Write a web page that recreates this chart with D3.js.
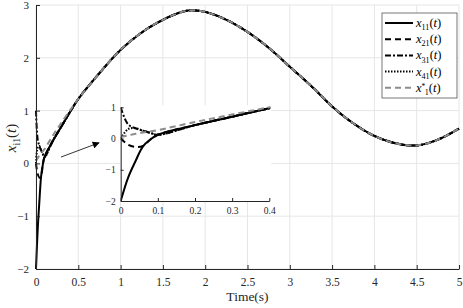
<!DOCTYPE html>
<html>
<head>
<meta charset="utf-8">
<style>
  body { margin: 0; background: #fff; }
  svg { display: block; }
  svg text { font-family: "Liberation Serif", "Times New Roman", "DejaVu Serif", serif; }
  .grid line { stroke: #e6e6e6; stroke-width: 1; }
  .axis path, .axis line { stroke: #262626; }
  .axis text { fill: #262626; }
</style>
<script src="https://d3js.org/d3.v7.min.js"></script>
</head>
<body>
<script>
// time samples (s)
var time = [0, 0.02, 0.04, 0.06, 0.08, 0.1, 0.2, 0.3, 0.4, 0.5, 0.75, 1, 1.25, 1.5, 1.75, 1.85, 2,
            2.25, 2.5, 2.75, 3, 3.25, 3.5, 3.75, 4, 4.25, 4.5, 4.75, 5];

// reference x1*(t)
var xRef = [0.05, 0.1, 0.15, 0.19, 0.23, 0.27, 0.53, 0.77, 1.0, 1.22, 1.71, 2.15, 2.48, 2.72, 2.88, 2.9, 2.87,
            2.72, 2.49, 2.19, 1.83, 1.47, 1.08, 0.76, 0.52, 0.38, 0.34, 0.45, 0.66];
// agents
var x11 = [-2, -1.25, -0.72, -0.25, -0.03, 0.12, 0.43, 0.7, 0.97, 1.22, 1.71, 2.15, 2.48, 2.72, 2.88, 2.9, 2.87,
           2.72, 2.49, 2.19, 1.83, 1.47, 1.08, 0.76, 0.52, 0.38, 0.34, 0.45, 0.66];
var x21 = [0, -0.2, -0.27, -0.24, -0.03, 0.12, 0.43, 0.7, 0.97, 1.22, 1.71, 2.15, 2.48, 2.72, 2.88, 2.9, 2.87,
           2.72, 2.49, 2.19, 1.83, 1.47, 1.08, 0.76, 0.52, 0.38, 0.34, 0.45, 0.66];
var x31 = [1, 0.45, 0.33, 0.25, 0.18, 0.12, 0.43, 0.7, 0.97, 1.22, 1.71, 2.15, 2.48, 2.72, 2.88, 2.9, 2.87,
           2.72, 2.49, 2.19, 1.83, 1.47, 1.08, 0.76, 0.52, 0.38, 0.34, 0.45, 0.66];
var x41 = [0, 0.3, 0.33, 0.25, 0.18, 0.12, 0.43, 0.7, 0.97, 1.22, 1.71, 2.15, 2.48, 2.72, 2.88, 2.9, 2.87,
           2.72, 2.49, 2.19, 1.83, 1.47, 1.08, 0.76, 0.52, 0.38, 0.34, 0.45, 0.66];

var xTicks = [0, 0.5, 1, 1.5, 2, 2.5, 3, 3.5, 4, 4.5, 5];
var yTicks = [-2, -1, 0, 1, 2, 3];
var insetXTicks = [0, 0.1, 0.2, 0.3, 0.4];
var insetYTicks = [-2, -1, 0, 1];
// arrow from / to, in main data coords
var arrowFrom = [0.295, 0.12], arrowTo = [0.745, 0.39];

var series = [
  {sub: "11", star: false, values: x11, color: "#000", dash: null},
  {sub: "21", star: false, values: x21, color: "#000", dash: "6,4"},
  {sub: "31", star: false, values: x31, color: "#000", dash: "6,2,2,2"},
  {sub: "41", star: false, values: x41, color: "#000", dash: "1.5,1.5"},
  {sub: "1", star: true, values: xRef, color: "#8c8c8c", dash: "6,4"}
];

var W = 463, H = 308;
var margin = {top: 5, right: 4, bottom: 39, left: 36};
var width = W - margin.left - margin.right;
var height = H - margin.top - margin.bottom;

var svg = d3.select("body").append("svg").attr("width", W).attr("height", H);
var defs = svg.append("defs");
defs.append("marker").attr("id", "arr").attr("viewBox", "0 0 10 10")
  .attr("refX", 9).attr("refY", 5).attr("markerWidth", 8).attr("markerHeight", 7)
  .attr("markerUnits", "userSpaceOnUse").attr("orient", "auto")
  .append("path").attr("d", "M0,0L10,5L0,10z").attr("fill", "#000");

var chart = svg.append("g").attr("transform", "translate(" + margin.left + "," + margin.top + ")");

var x = d3.scaleLinear().domain([0, 5]).range([0, width]);
var y = d3.scaleLinear().domain([-2, 3]).range([height, 0]);

// grid
chart.append("g").attr("class", "grid").selectAll("line.v").data(xTicks).enter().append("line")
  .attr("x1", x).attr("x2", x).attr("y1", 0).attr("y2", height);
chart.append("g").attr("class", "grid").selectAll("line.h").data(yTicks).enter().append("line")
  .attr("y1", y).attr("y2", y).attr("x1", 0).attr("x2", width);

function drawLines(g, xs, ys) {
  var line = d3.line().x(function(d) { return xs(d[0]); }).y(function(d) { return ys(d[1]); })
    .curve(d3.curveCatmullRom.alpha(0.5));
  series.forEach(function(s) {
    g.append("path")
      .datum(time.map(function(t, i) { return [t, s.values[i]]; }))
      .attr("d", line)
      .attr("fill", "none")
      .attr("stroke", s.color)
      .attr("stroke-width", 2)
      .attr("stroke-dasharray", s.dash);
  });
}
drawLines(chart.append("g"), x, y);

// axes
var serif = "Liberation Serif, Times New Roman, serif";
var xAxis = chart.append("g").attr("class", "axis").attr("transform", "translate(0," + height + ")")
  .call(d3.axisBottom(x).tickValues(xTicks).tickSizeInner(-4).tickSizeOuter(0).tickPadding(9)
    .tickFormat(d3.format("")));
xAxis.attr("font-family", serif).selectAll("text").attr("font-size", "11.5px");
var yAxis = chart.append("g").attr("class", "axis")
  .call(d3.axisLeft(y).tickValues(yTicks).tickSizeInner(-4).tickSizeOuter(0).tickPadding(7)
    .tickFormat(d3.format("")));
yAxis.attr("font-family", serif).selectAll("text").attr("font-size", "11px");

svg.append("text").attr("x", margin.left + width / 2).attr("y", 301)
  .attr("text-anchor", "middle").attr("font-size", "13.5px").attr("fill", "#262626").text("Time(s)");

function mathLabel(sel, sub, star, size) {
  sel.append("tspan").attr("font-style", "italic").text("x");
  if (star) {
    sel.append("tspan").attr("font-size", size * 0.6).attr("dy", -size * 0.25).text("*");
    sel.append("tspan").attr("font-size", size * 0.65).attr("dx", -size * 0.05).attr("dy", size * 0.5).text(sub);
    sel.append("tspan").attr("dy", -size * 0.25).text("(");
  } else {
    sel.append("tspan").attr("font-size", size * 0.65).attr("dy", size * 0.25).text(sub);
    sel.append("tspan").attr("dy", -size * 0.25).text("(");
  }
  sel.append("tspan").attr("font-style", "italic").text("t");
  sel.append("tspan").text(")");
}

var yl = svg.append("text").attr("transform", "translate(16,138) rotate(-90)")
  .attr("text-anchor", "middle").attr("font-size", 15).attr("fill", "#262626");
mathLabel(yl, "i1", false, 15);

// arrow
chart.append("line")
  .attr("x1", x(arrowFrom[0])).attr("y1", y(arrowFrom[1]))
  .attr("x2", x(arrowTo[0])).attr("y2", y(arrowTo[1]))
  .attr("stroke", "#000").attr("stroke-width", 0.8).attr("marker-end", "url(#arr)");

// inset
var inset = {left: 120.7, top: 107.3, width: 148.6, height: 93.7};
var ix = d3.scaleLinear().domain([0, 0.4]).range([0, inset.width]);
var iy = d3.scaleLinear().domain([-2, 1]).range([inset.height, 0]);
var ig = svg.append("g").attr("transform", "translate(" + inset.left + "," + inset.top + ")");
ig.append("rect").attr("x", 0).attr("y", -2).attr("width", inset.width + 2).attr("height", inset.height + 2)
  .attr("fill", "#fff");
defs.append("clipPath").attr("id", "iclip").append("rect")
  .attr("x", 0).attr("y", -2).attr("width", inset.width + 1).attr("height", inset.height + 3);
drawLines(ig.append("g").attr("clip-path", "url(#iclip)"), ix, iy);
var ixa = ig.append("g").attr("class", "axis").attr("transform", "translate(0," + inset.height + ")")
  .call(d3.axisBottom(ix).tickValues(insetXTicks).tickSizeInner(-3).tickSizeOuter(0).tickPadding(6)
    .tickFormat(d3.format("")));
ixa.attr("font-family", serif).selectAll("text").attr("font-size", "9.5px");
var iya = ig.append("g").attr("class", "axis")
  .call(d3.axisLeft(iy).tickValues(insetYTicks).tickSizeInner(-3).tickSizeOuter(0).tickPadding(5)
    .tickFormat(d3.format("")));
iya.attr("font-family", serif).selectAll("text").attr("font-size", "9.5px");

// legend
var lg = svg.append("g").attr("transform", "translate(382,13)");
lg.append("rect").attr("width", 75).attr("height", 85).attr("fill", "#fff")
  .attr("stroke", "#555").attr("stroke-width", 0.8);
series.forEach(function(s, i) {
  var yy = 10 + i * 16.2;
  lg.append("line").attr("x1", 3).attr("x2", 31).attr("y1", yy).attr("y2", yy)
    .attr("stroke", s.color).attr("stroke-width", 2).attr("stroke-dasharray", s.dash);
  var t = lg.append("text").attr("x", 34).attr("y", yy + 4).attr("font-size", 12.5).attr("fill", "#000");
  mathLabel(t, s.sub, s.star, 12.5);
});
</script>
</body>
</html>
